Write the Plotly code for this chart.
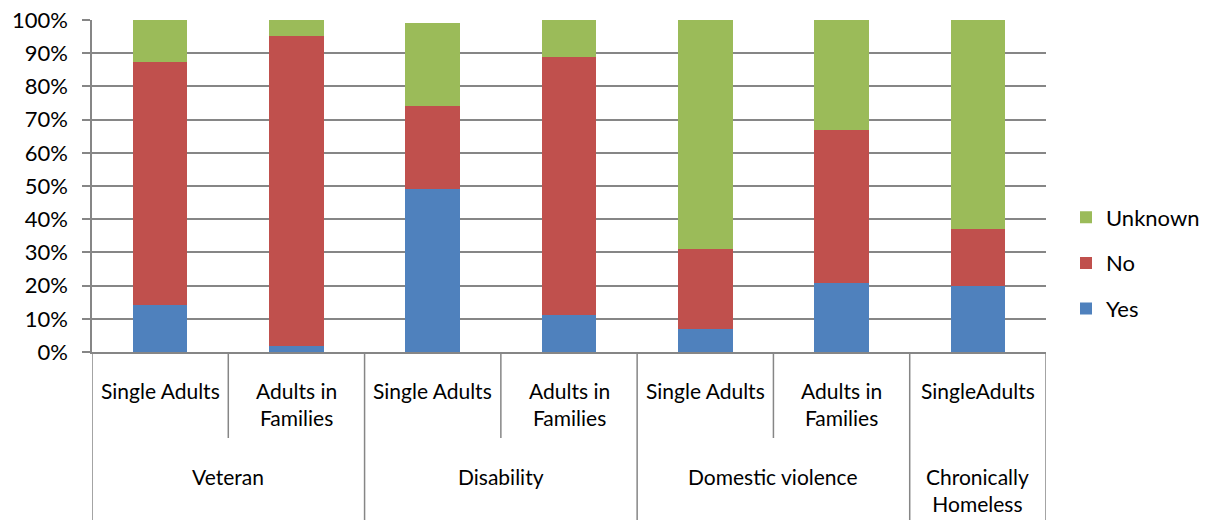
import plotly.graph_objects as go

# ---- data ----
group_labels = ["Veteran", "Disability", "Domestic violence", "Chronically<br>Homeless"]
group_sizes = [2, 2, 2, 1]
sub_labels = ["Single Adults", "Adults in<br>Families", "Single Adults", "Adults in<br>Families",
              "Single Adults", "Adults in<br>Families", "SingleAdults"]
yes = [14.3, 1.9, 49.0, 11.0, 6.9, 20.9, 19.9]
no = [73.2, 93.3, 25.1, 77.9, 24.1, 46.1, 17.1]
unknown = [12.5, 4.8, 25.0, 11.1, 69.0, 33.0, 63.0]
y_ticks = list(range(0, 101, 10))

# ---- layout constants ----
W, H = 1205, 520
L, R, T, B = 92, 159, 20, 168
plot_h = H - T - B
FONT = "Lato, 'Open Sans', sans-serif"
GRID = "#868686"

def py(px):  # pixel y (from top) -> paper y
    return (H - B - px) / plot_h

x = list(range(len(sub_labels)))

fig = go.Figure()
series = [("Yes", yes, "#4F81BD", 3), ("No", no, "#C0504D", 2), ("Unknown", unknown, "#9BBB59", 1)]
for name, vals, col, rank in series:
    fig.add_trace(go.Bar(x=x, y=vals, name=name, marker=dict(color=col, line=dict(width=0)),
                         width=0.4, legendgroup=name, legendrank=rank))

shapes = []
annotations = []
LABEL_FONT = dict(size=21, color="#000000", family=FONT)
for i, lab in enumerate(sub_labels):
    annotations.append(dict(x=i, y=py(376), xref="x", yref="paper", text=lab, showarrow=False,
                            yanchor="top", xanchor="center", font=LABEL_FONT))
start = 0
bounds = [-0.5]
for g, n in zip(group_labels, group_sizes):
    center = start + (n - 1) / 2
    annotations.append(dict(x=center, y=py(462), xref="x", yref="paper", text=g, showarrow=False,
                            yanchor="top", xanchor="center", font=LABEL_FONT))
    for k in range(1, n):
        xb = start + k - 0.5
        shapes.append(dict(type="line", xref="x", yref="paper", x0=xb, x1=xb, y0=0, y1=py(438),
                           line=dict(color=GRID, width=1.5)))
    start += n
    bounds.append(start - 0.5)
for xb in bounds:
    shapes.append(dict(type="line", xref="x", yref="paper", x0=xb, x1=xb, y0=0, y1=py(H),
                       line=dict(color=GRID, width=1.5)))

fig.update_layout(
    width=W, height=H,
    margin=dict(l=L, r=R, t=T, b=B, autoexpand=False),
    barmode="stack",
    plot_bgcolor="white", paper_bgcolor="white",
    font=dict(family=FONT, size=20, color="#000000"),
    shapes=shapes, annotations=annotations,
    legend=dict(traceorder="grouped", xref="container", yref="container",
                x=1066 / W, xanchor="left", y=1 - 263 / H, yanchor="middle",
                font=dict(size=22, color="#000000"), tracegroupgap=14, itemwidth=30,
                bgcolor="rgba(0,0,0,0)"),
    showlegend=True,
)
fig.update_xaxes(range=[-0.5, len(sub_labels) - 0.5], showticklabels=False, showgrid=False,
                 zeroline=False, showline=True, linecolor=GRID, linewidth=1.5, ticks="",
                 automargin=False)
fig.update_yaxes(range=[0, 100], tickvals=y_ticks, ticktext=[f"{v}%" for v in y_ticks],
                 showgrid=True, gridcolor=GRID, gridwidth=1.5, zeroline=False,
                 showline=True, linecolor=GRID, linewidth=1.5, ticks="outside", ticklen=8,
                 tickcolor=GRID, tickwidth=1.5, tickfont=dict(size=22, color="#000000"),
                 ticklabelstandoff=10, automargin=False)

fig.write_html("out.html")
